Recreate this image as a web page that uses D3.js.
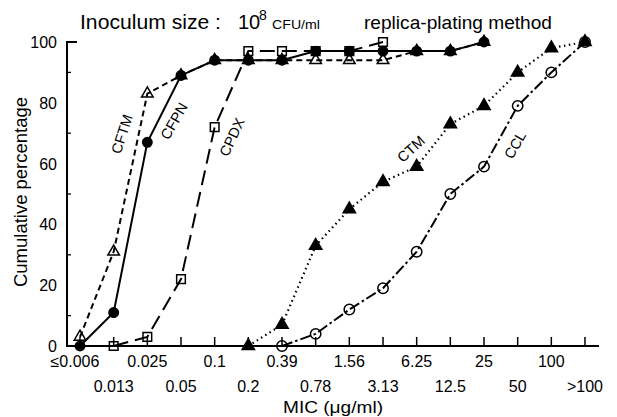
<!DOCTYPE html>
<html>
<head>
<meta charset="utf-8">
<script src="https://cdn.jsdelivr.net/npm/d3@7"></script>
<style>
  body { margin: 0; background: #fff; }
  text { font-family: "Liberation Sans", Arial, Helvetica, sans-serif; fill: #000; }
</style>
</head>
<body>
<div id="chart"></div>
<script>
// MIC categories along the x axis (equal spacing)
var categories = ["≤0.006", "0.013", "0.025", "0.05", "0.1", "0.2", "0.39", "0.78",
                  "1.56", "3.13", "6.25", "12.5", "25", "50", "100", ">100"];

// cumulative percentage per drug (null = no point)
var cftm = [3, 31, 83, 89, 94, 94, 94, 94, 94, 94, 97, 97, 100, null, null, null];
var cfpn = [0, 11, 67, 89, 94, 94, 94, 97, 97, 97, 97, 97, 100, null, null, null];
var cpdx = [null, 0, 3, 22, 72, 97, 97, 97, 97, 100, null, null, null, null, null, null];
var ctm  = [null, null, null, null, null, 0, 7, 33, 45, 54, 59, 73, 79, 90, 98, 100];
var ccl  = [null, null, null, null, null, null, 0, 4, 12, 19, 31, 50, 59, 79, 90, 100];

var yTickLabels = [0, 20, 40, 60, 80, 100];
var yMinorTicks = [10, 30, 50, 70, 90];

var W = 617, H = 417;

var svg = d3.select("#chart").append("svg")
    .attr("width", W)
    .attr("height", H);

var x = d3.scalePoint().domain(categories).range([80, 585]);
var y = d3.scaleLinear().domain([0, 100]).range([346, 42]);

// series definitions: line dash + marker
var series = [
  {name: "CFTM", values: cftm, dash: "6,4",        symbol: d3.symbolTriangle, size: 58, fill: "none"},
  {name: "CFPN", values: cfpn, dash: null,         symbol: d3.symbolCircle,   size: 70, fill: "#000"},
  {name: "CPDX", values: cpdx, dash: "15,7",       symbol: d3.symbolSquare,   size: 75, fill: "none"},
  {name: "CTM",  values: ctm,  dash: "1.5,3.5",    symbol: d3.symbolTriangle, size: 66, fill: "#000"},
  {name: "CCL",  values: ccl,  dash: "11,3,2.5,3", symbol: d3.symbolCircle,   size: 85, fill: "none"}
];

// axes
svg.append("line")
    .attr("x1", 67).attr("x2", 67)
    .attr("y1", y(100) - 1).attr("y2", y(0) + 1)
    .attr("stroke", "#000").attr("stroke-width", 2);
svg.append("line")
    .attr("x1", 66).attr("x2", 599)
    .attr("y1", y(0)).attr("y2", y(0))
    .attr("stroke", "#000").attr("stroke-width", 2);

// top corner tick at 100
svg.append("line")
    .attr("x1", 66).attr("x2", 77)
    .attr("y1", y(100)).attr("y2", y(100))
    .attr("stroke", "#000").attr("stroke-width", 2);

svg.selectAll(".ytick")
   .data(yMinorTicks)
   .enter().append("line")
   .attr("x1", 67).attr("x2", 71)
   .attr("y1", function(d) { return y(d); })
   .attr("y2", function(d) { return y(d); })
   .attr("stroke", "#000").attr("stroke-width", 1.3);

svg.selectAll(".ylab")
   .data(yTickLabels)
   .enter().append("text")
   .attr("x", 57)
   .attr("y", function(d) { return y(d) + 6; })
   .attr("text-anchor", "end")
   .attr("font-size", 16)
   .text(function(d) { return d; });

// x ticks (inward)
svg.selectAll(".xtick")
   .data(categories)
   .enter().append("line")
   .attr("x1", function(d) { return x(d); })
   .attr("x2", function(d) { return x(d); })
   .attr("y1", y(0))
   .attr("y2", y(0) - 9)
   .attr("stroke", "#000").attr("stroke-width", 1.5);

// x labels on two staggered rows
svg.selectAll(".xlab")
   .data(categories)
   .enter().append("text")
   .attr("x", function(d, i) { return i === 0 ? x(d) - 5 : x(d); })
   .attr("y", function(d, i) { return i % 2 === 0 ? 367 : 392; })
   .attr("text-anchor", "middle")
   .attr("font-size", 16)
   .text(function(d) { return d; });

svg.append("text")
    .attr("x", 333).attr("y", 413)
    .attr("text-anchor", "middle")
    .attr("font-size", 16)
    .attr("textLength", 100)
    .attr("lengthAdjust", "spacingAndGlyphs")
    .text("MIC (μg/ml)");

svg.append("text")
    .attr("transform", "translate(27,192) rotate(-90)")
    .attr("text-anchor", "middle")
    .attr("font-size", 18)
    .attr("textLength", 190)
    .attr("lengthAdjust", "spacingAndGlyphs")
    .text("Cumulative percentage");

// title
svg.append("text")
    .attr("x", 80).attr("y", 29)
    .attr("font-size", 20)
    .attr("textLength", 141)
    .attr("lengthAdjust", "spacingAndGlyphs")
    .text("Inoculum size :");
svg.append("text")
    .attr("x", 238).attr("y", 29)
    .attr("font-size", 20)
    .text("10");
svg.append("text")
    .attr("x", 259).attr("y", 20)
    .attr("font-size", 14)
    .text("8");
svg.append("text")
    .attr("x", 272).attr("y", 29)
    .attr("font-size", 12.5)
    .attr("textLength", 48)
    .attr("lengthAdjust", "spacingAndGlyphs")
    .text("CFU/ml");
svg.append("text")
    .attr("x", 364).attr("y", 29)
    .attr("font-size", 19)
    .attr("textLength", 188)
    .attr("lengthAdjust", "spacingAndGlyphs")
    .text("replica-plating method");

// lines
var line = d3.line()
    .defined(function(d) { return d.v !== null; })
    .x(function(d) { return x(d.c); })
    .y(function(d) { return y(d.v); });

series.forEach(function(s) {
  var pts = s.values.map(function(v, i) { return {c: categories[i], v: v}; });
  svg.append("path")
     .datum(pts)
     .attr("fill", "none")
     .attr("stroke", "#000")
     .attr("stroke-width", s.name === "CTM" ? 2.2 : 2)
     .attr("stroke-dasharray", s.dash)
     .attr("d", line);
});

// markers
series.forEach(function(s) {
  var pts = s.values.map(function(v, i) { return {c: categories[i], v: v}; })
                    .filter(function(d) { return d.v !== null; });
  var sym = d3.symbol().type(s.symbol).size(s.size);
  svg.selectAll(".m-" + s.name)
     .data(pts)
     .enter().append("path")
     .attr("d", sym)
     .attr("transform", function(d) { return "translate(" + x(d.c) + "," + y(d.v) + ")"; })
     .attr("fill", s.fill)
     .attr("stroke", "#000")
     .attr("stroke-width", 1.5);
});

// curve labels
var curveLabels = [
  {text: "CFTM", x: 122, y: 134, angle: -72},
  {text: "CFPN", x: 174, y: 121, angle: -60},
  {text: "CPDX", x: 232, y: 137, angle: -65},
  {text: "CTM",  x: 411, y: 149, angle: -42},
  {text: "CCL",  x: 515, y: 145, angle: -60}
];

svg.selectAll(".clab")
   .data(curveLabels)
   .enter().append("text")
   .attr("transform", function(d) { return "translate(" + d.x + "," + d.y + ") rotate(" + d.angle + ")"; })
   .attr("text-anchor", "middle")
   .attr("dy", "0.35em")
   .attr("font-size", 14.5)
   .text(function(d) { return d.text; });
</script>
</body>
</html>
